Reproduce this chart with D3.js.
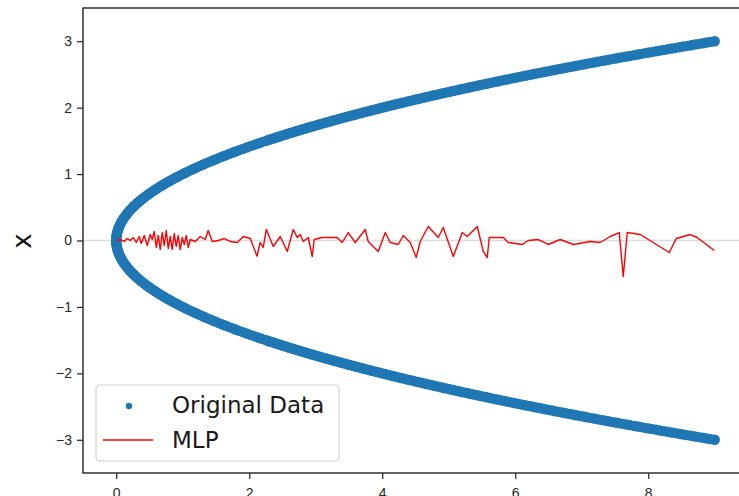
<!DOCTYPE html>
<html lang="en">
<head>
    <meta charset="UTF-8">
    <title>Original Data vs MLP</title>
    <script src="https://d3js.org/d3.v7.min.js"></script>
    <style>
        body { margin: 0; background: #fff; }
        svg { display: block; font-family: "DejaVu Sans", sans-serif; }
        .axis text { font-size: 14px; fill: #262626; }
        .axis line { stroke: #222; stroke-width: 1.2; }
        .axis path { display: none; }
    </style>
</head>
<body>
<svg id="chart" width="739" height="496"></svg>
<script>
// input x (vertical axis) and x^2 (horizontal axis) of the scatter
const tData = [
-3,-2.98,-2.96,-2.94,-2.92,-2.9,-2.88,-2.86,-2.84,-2.82,
-2.8,-2.78,-2.76,-2.74,-2.72,-2.7,-2.68,-2.66,-2.64,-2.62,
-2.6,-2.58,-2.56,-2.54,-2.52,-2.5,-2.48,-2.46,-2.44,-2.42,
-2.4,-2.38,-2.36,-2.34,-2.32,-2.3,-2.28,-2.26,-2.24,-2.22,
-2.2,-2.18,-2.16,-2.14,-2.12,-2.1,-2.08,-2.06,-2.04,-2.02,
-2,-1.98,-1.96,-1.94,-1.92,-1.9,-1.88,-1.86,-1.84,-1.82,
-1.8,-1.78,-1.76,-1.74,-1.72,-1.7,-1.68,-1.66,-1.64,-1.62,
-1.6,-1.58,-1.56,-1.54,-1.52,-1.5,-1.48,-1.46,-1.44,-1.42,
-1.4,-1.38,-1.36,-1.34,-1.32,-1.3,-1.28,-1.26,-1.24,-1.22,
-1.2,-1.18,-1.16,-1.14,-1.12,-1.1,-1.08,-1.06,-1.04,-1.02,
-1,-0.98,-0.96,-0.94,-0.92,-0.9,-0.88,-0.86,-0.84,-0.82,
-0.8,-0.78,-0.76,-0.74,-0.72,-0.7,-0.68,-0.66,-0.64,-0.62,
-0.6,-0.58,-0.56,-0.54,-0.52,-0.5,-0.48,-0.46,-0.44,-0.42,
-0.4,-0.38,-0.36,-0.34,-0.32,-0.3,-0.28,-0.26,-0.24,-0.22,
-0.2,-0.18,-0.16,-0.14,-0.12,-0.1,-0.08,-0.06,-0.04,-0.02,
0,
0.02,0.04,0.06,0.08,0.1,0.12,0.14,0.16,0.18,0.2,
0.22,0.24,0.26,0.28,0.3,0.32,0.34,0.36,0.38,0.4,
0.42,0.44,0.46,0.48,0.5,0.52,0.54,0.56,0.58,0.6,
0.62,0.64,0.66,0.68,0.7,0.72,0.74,0.76,0.78,0.8,
0.82,0.84,0.86,0.88,0.9,0.92,0.94,0.96,0.98,1,
1.02,1.04,1.06,1.08,1.1,1.12,1.14,1.16,1.18,1.2,
1.22,1.24,1.26,1.28,1.3,1.32,1.34,1.36,1.38,1.4,
1.42,1.44,1.46,1.48,1.5,1.52,1.54,1.56,1.58,1.6,
1.62,1.64,1.66,1.68,1.7,1.72,1.74,1.76,1.78,1.8,
1.82,1.84,1.86,1.88,1.9,1.92,1.94,1.96,1.98,2,
2.02,2.04,2.06,2.08,2.1,2.12,2.14,2.16,2.18,2.2,
2.22,2.24,2.26,2.28,2.3,2.32,2.34,2.36,2.38,2.4,
2.42,2.44,2.46,2.48,2.5,2.52,2.54,2.56,2.58,2.6,
2.62,2.64,2.66,2.68,2.7,2.72,2.74,2.76,2.78,2.8,
2.82,2.84,2.86,2.88,2.9,2.92,2.94,2.96,2.98,3
];
const sqData = [
9,8.8804,8.7616,8.6436,8.5264,8.41,8.2944,8.1796,8.0656,7.9524,
7.84,7.7284,7.6176,7.5076,7.3984,7.29,7.1824,7.0756,6.9696,6.8644,
6.76,6.6564,6.5536,6.4516,6.3504,6.25,6.1504,6.0516,5.9536,5.8564,
5.76,5.6644,5.5696,5.4756,5.3824,5.29,5.1984,5.1076,5.0176,4.9284,
4.84,4.7524,4.6656,4.5796,4.4944,4.41,4.3264,4.2436,4.1616,4.0804,
4,3.9204,3.8416,3.7636,3.6864,3.61,3.5344,3.4596,3.3856,3.3124,
3.24,3.1684,3.0976,3.0276,2.9584,2.89,2.8224,2.7556,2.6896,2.6244,
2.56,2.4964,2.4336,2.3716,2.3104,2.25,2.1904,2.1316,2.0736,2.0164,
1.96,1.9044,1.8496,1.7956,1.7424,1.69,1.6384,1.5876,1.5376,1.4884,
1.44,1.3924,1.3456,1.2996,1.2544,1.21,1.1664,1.1236,1.0816,1.0404,
1,0.9604,0.9216,0.8836,0.8464,0.81,0.7744,0.7396,0.7056,0.6724,
0.64,0.6084,0.5776,0.5476,0.5184,0.49,0.4624,0.4356,0.4096,0.3844,
0.36,0.3364,0.3136,0.2916,0.2704,0.25,0.2304,0.2116,0.1936,0.1764,
0.16,0.1444,0.1296,0.1156,0.1024,0.09,0.0784,0.0676,0.0576,0.0484,
0.04,0.0324,0.0256,0.0196,0.0144,0.01,0.0064,0.0036,0.0016,0.0004,
0,
0.0004,0.0016,0.0036,0.0064,0.01,0.0144,0.0196,0.0256,0.0324,0.04,
0.0484,0.0576,0.0676,0.0784,0.09,0.1024,0.1156,0.1296,0.1444,0.16,
0.1764,0.1936,0.2116,0.2304,0.25,0.2704,0.2916,0.3136,0.3364,0.36,
0.3844,0.4096,0.4356,0.4624,0.49,0.5184,0.5476,0.5776,0.6084,0.64,
0.6724,0.7056,0.7396,0.7744,0.81,0.8464,0.8836,0.9216,0.9604,1,
1.0404,1.0816,1.1236,1.1664,1.21,1.2544,1.2996,1.3456,1.3924,1.44,
1.4884,1.5376,1.5876,1.6384,1.69,1.7424,1.7956,1.8496,1.9044,1.96,
2.0164,2.0736,2.1316,2.1904,2.25,2.3104,2.3716,2.4336,2.4964,2.56,
2.6244,2.6896,2.7556,2.8224,2.89,2.9584,3.0276,3.0976,3.1684,3.24,
3.3124,3.3856,3.4596,3.5344,3.61,3.6864,3.7636,3.8416,3.9204,4,
4.0804,4.1616,4.2436,4.3264,4.41,4.4944,4.5796,4.6656,4.7524,4.84,
4.9284,5.0176,5.1076,5.1984,5.29,5.3824,5.4756,5.5696,5.6644,5.76,
5.8564,5.9536,6.0516,6.1504,6.25,6.3504,6.4516,6.5536,6.6564,6.76,
6.8644,6.9696,7.0756,7.1824,7.29,7.3984,7.5076,7.6176,7.7284,7.84,
7.9524,8.0656,8.1796,8.2944,8.41,8.5264,8.6436,8.7616,8.8804,9
];

// extra scatter points on the steep outer parts of both branches
const tFineUpper = [
1.51,1.53,1.55,1.57,1.59,1.61,1.63,1.65,1.67,1.69,
1.71,1.73,1.75,1.77,1.79,1.81,1.83,1.85,1.87,1.89,
1.91,1.93,1.95,1.97,1.99,2.01,2.03,2.05,2.07,2.09,
2.11,2.13,2.15,2.17,2.19,2.21,2.23,2.25,2.27,2.29,
2.31,2.33,2.35,2.37,2.39,2.41,2.43,2.45,2.47,2.49,
2.51,2.53,2.55,2.57,2.59,2.61,2.63,2.65,2.67,2.69,
2.71,2.73,2.75,2.77,2.79,2.81,2.83,2.85,2.87,2.89,
2.91,2.93,2.95,2.97,2.99
];
const tFineLower = [
-1.51,-1.53,-1.55,-1.57,-1.59,-1.61,-1.63,-1.65,-1.67,-1.69,
-1.71,-1.73,-1.75,-1.77,-1.79,-1.81,-1.83,-1.85,-1.87,-1.89,
-1.91,-1.93,-1.95,-1.97,-1.99,-2.01,-2.03,-2.05,-2.07,-2.09,
-2.11,-2.13,-2.15,-2.17,-2.19,-2.21,-2.23,-2.25,-2.27,-2.29,
-2.31,-2.33,-2.35,-2.37,-2.39,-2.41,-2.43,-2.45,-2.47,-2.49,
-2.51,-2.53,-2.55,-2.57,-2.59,-2.61,-2.63,-2.65,-2.67,-2.69,
-2.71,-2.73,-2.75,-2.77,-2.79,-2.81,-2.83,-2.85,-2.87,-2.89,
-2.91,-2.93,-2.95,-2.97,-2.99
];
const sqFine = [
2.2801,2.3409,2.4025,2.4649,2.5281,2.5921,2.6569,2.7225,2.7889,2.8561,
2.9241,2.9929,3.0625,3.1329,3.2041,3.2761,3.3489,3.4225,3.4969,3.5721,
3.6481,3.7249,3.8025,3.8809,3.9601,4.0401,4.1209,4.2025,4.2849,4.3681,
4.4521,4.5369,4.6225,4.7089,4.7961,4.8841,4.9729,5.0625,5.1529,5.2441,
5.3361,5.4289,5.5225,5.6169,5.7121,5.8081,5.9049,6.0025,6.1009,6.2001,
6.3001,6.4009,6.5025,6.6049,6.7081,6.8121,6.9169,7.0225,7.1289,7.2361,
7.3441,7.4529,7.5625,7.6729,7.7841,7.8961,8.0089,8.1225,8.2369,8.3521,
8.4681,8.5849,8.7025,8.8209,8.9401
];

// MLP prediction from left to right
const mlpX = [
0.008,0.060,0.120,0.165,0.211,0.256,0.301,0.346,0.376,0.421,
0.466,0.511,0.541,0.571,0.602,0.632,0.662,0.692,0.722,0.752,
0.782,0.812,0.842,0.872,0.902,0.932,0.962,0.992,1.023,1.053,
1.083,1.113,1.188,1.263,1.338,1.383,1.444,1.534,1.624,1.714,
1.820,1.910,2.015,2.116,2.165,2.211,2.256,2.361,2.466,2.571,
2.662,2.722,2.767,2.812,2.887,2.947,2.977,3.098,3.323,3.398,
3.489,3.594,3.744,3.789,3.940,4.045,4.120,4.241,4.316,4.421,
4.511,4.571,4.692,4.842,4.917,5.068,5.203,5.278,5.429,5.519,
5.579,5.609,5.820,5.895,6.105,6.195,6.346,6.496,6.677,6.872,
7.128,7.278,7.429,7.564,7.624,7.684,7.880,8.316,8.421,8.632,
8.737,8.992
];
const mlpY = [
0,0.015,-0.015,0.030,0,0.045,-0.030,0.060,-0.045,0.075,
-0.075,0.090,0.015,0.136,-0.105,0.075,-0.136,0.120,-0.075,0.151,
-0.120,0.060,-0.136,0.105,-0.090,0.075,-0.136,0.045,-0.060,0.075,
-0.105,0.015,-0.015,0.060,0.015,0.151,-0.015,0,0.030,-0.015,
-0.030,0.060,0.030,-0.236,-0.030,-0.105,0.166,-0.090,0.060,-0.166,
0.166,0.045,0.090,-0.015,0.045,-0.241,0.015,0.045,0.045,-0.030,
0.120,-0.030,0.166,-0.015,-0.166,0.120,-0.030,-0.060,0.075,-0.030,
-0.256,-0.015,0.211,0.045,0.196,-0.241,0.120,0.060,0.211,-0.166,
-0.256,0.045,0.045,-0.030,-0.060,0,0.015,-0.060,0.015,-0.060,
-0.015,-0.030,0.060,0.120,-0.542,0.120,0.090,-0.181,0.030,0.090,
0.045,-0.151
];

const xTicks = [0, 2, 4, 6, 8];
const yTicks = [-3, -2, -1, 0, 1, 2, 3];

const svg = d3.select("#chart");
const plotL = 83, plotR = 748, plotT = 8, plotB = 473;

const x = d3.scaleLinear().domain([-0.5, 9.5]).range([plotL, plotR]);
const y = d3.scaleLinear().domain([-3.5, 3.5]).range([plotB, plotT]);
const fmt = d => d < 0 ? "\u2212" + Math.abs(d) : String(d);

svg.append("rect").attr("width", 739).attr("height", 496).attr("fill", "#fff");

// light reference line at 0
svg.append("line")
    .attr("x1", plotL).attr("x2", plotR)
    .attr("y1", y(0)).attr("y2", y(0))
    .attr("stroke", "#dcdcdc").attr("stroke-width", 1.5);

// scatter
const pts = tData.map((t, i) => [sqData[i], t])
    .concat(tFineUpper.map((t, i) => [sqFine[i], t]))
    .concat(tFineLower.map((t, i) => [sqFine[i], t]));

svg.append("g").selectAll("circle")
    .data(pts)
    .join("circle")
    .attr("cx", d => x(d[0]))
    .attr("cy", d => y(d[1]))
    .attr("r", 5.2)
    .attr("fill", "#1f77b4");

// MLP line
const line = d3.line().x(d => x(d[0])).y(d => y(d[1]));
svg.append("path")
    .datum(mlpX.map((v, i) => [v, mlpY[i]]))
    .attr("d", line)
    .attr("fill", "none")
    .attr("stroke", "#ff0000")
    .attr("stroke-width", 1.4)
    .attr("stroke-linejoin", "round");

// spines
svg.append("rect")
    .attr("x", plotL).attr("y", plotT)
    .attr("width", plotR - plotL).attr("height", plotB - plotT)
    .attr("fill", "none").attr("stroke", "#111").attr("stroke-width", 1.3);

svg.append("g").attr("class", "axis")
    .attr("transform", "translate(" + plotL + ",0)")
    .call(d3.axisLeft(y).tickValues(yTicks).tickFormat(fmt).tickSize(6).tickPadding(5));

svg.append("g").attr("class", "axis")
    .attr("transform", "translate(0," + plotB + ")")
    .call(d3.axisBottom(x).tickValues(xTicks).tickFormat(fmt).tickSize(6).tickPadding(9));

// y label
svg.append("text")
    .attr("transform", "translate(24,241) rotate(-90)")
    .attr("text-anchor", "middle")
    .attr("dy", "0.27em")
    .style("font-size", "26px")
    .attr("fill", "#111")
    .text("x");

// legend
const lg = svg.append("g");
lg.append("rect")
    .attr("x", 96).attr("y", 385).attr("width", 243).attr("height", 76)
    .attr("rx", 4)
    .attr("fill", "#fff").attr("fill-opacity", 0.8)
    .attr("stroke", "#d0d0d0").attr("stroke-width", 1.2);
lg.append("circle").attr("cx", 129).attr("cy", 406).attr("r", 3.2).attr("fill", "#1f77b4");
lg.append("line")
    .attr("x1", 103).attr("x2", 153).attr("y1", 440).attr("y2", 440)
    .attr("stroke", "#ff0000").attr("stroke-width", 1.4);
lg.append("text").attr("x", 172).attr("y", 413)
    .style("font-size", "23px").attr("fill", "#1a1a1a").text("Original Data");
lg.append("text").attr("x", 172).attr("y", 448)
    .style("font-size", "23px").attr("fill", "#1a1a1a").text("MLP");
</script>
</body>
</html>
